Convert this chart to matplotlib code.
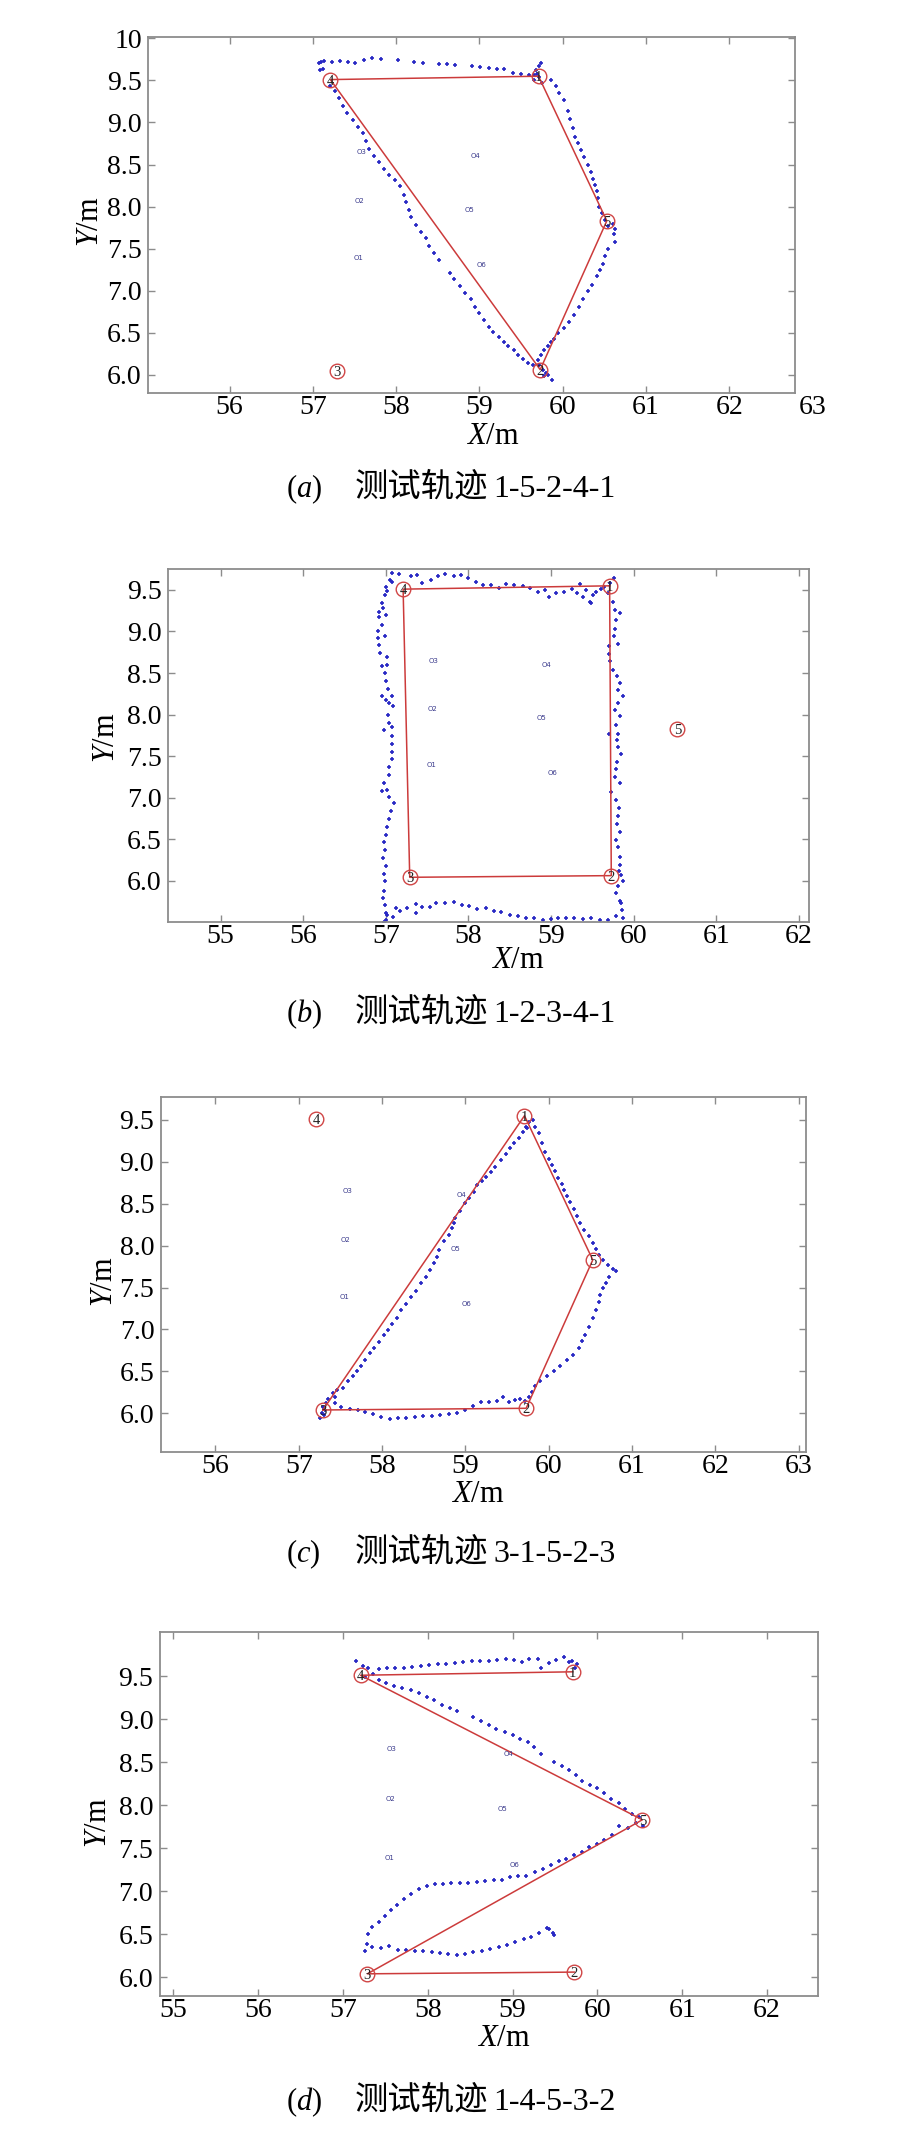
import matplotlib
matplotlib.use("Agg")
import matplotlib.pyplot as plt

plt.rcParams['font.family'] = ['Liberation Serif', 'Noto Sans CJK SC']
plt.rcParams['mathtext.fontset'] = 'custom'
plt.rcParams['mathtext.rm'] = 'Liberation Serif'
plt.rcParams['mathtext.it'] = 'Liberation Serif:italic'

W, H = 906, 2147

# test points 1..5 (red circles)
node_x = [59.71, 59.73, 57.29, 57.21, 60.53]
node_y = [9.55, 6.06, 6.04, 9.51, 7.83]
node_names = ['1', '2', '3', '4', '5']

# landmarks O1..O6
lm_x = [57.55, 57.56, 57.58, 58.95, 58.88, 59.02]
lm_y = [7.39, 8.07, 8.65, 8.60, 7.96, 7.30]
lm_names = ['O1', 'O2', 'O3', 'O4', 'O5', 'O6']

# planned routes
route_a = [1, 5, 2, 4, 1]
route_b = [1, 2, 3, 4, 1]
route_c = [3, 1, 5, 2, 3]
route_d = [1, 4, 5, 3, 2]

# measured tracks
track_a_x = [57.07, 57.10, 57.13, 57.09, 57.12, 57.23, 57.33, 57.42, 57.51, 57.61,
             57.71, 57.82, 58.02, 58.22, 58.32, 58.51, 58.61, 58.71, 58.91, 59.01,
             59.11, 59.21, 59.30, 59.40, 59.50, 59.60, 59.66, 59.68, 59.72, 59.74,
             59.71, 59.66, 59.75, 59.69,
             59.86, 59.92, 59.96, 60.02, 60.06, 60.09, 60.12, 60.15, 60.18, 60.22,
             60.26, 60.31, 60.34, 60.37, 60.39, 60.41, 60.43, 60.44, 60.47, 60.51,
             60.54, 60.61, 60.63, 60.62,
             60.63, 60.54, 60.51, 60.49, 60.45, 60.41, 60.35, 60.31, 60.25, 60.20,
             60.14, 60.08, 60.01, 59.94, 59.90, 59.86, 59.82, 59.78, 59.74, 59.70,
             59.71, 59.76, 59.80, 59.78, 59.87, 59.82,
             59.64, 59.58, 59.52, 59.46, 59.41, 59.34, 59.29, 59.23, 59.16, 59.11,
             59.05, 59.00, 58.95, 58.90, 58.83, 58.77, 58.70, 58.65, 58.52, 58.46,
             58.40, 58.36, 58.30, 58.24, 58.18, 58.15, 58.12, 58.09, 58.05, 57.99,
             57.91, 57.85, 57.79, 57.73, 57.67, 57.64, 57.60, 57.54, 57.48, 57.41,
             57.36, 57.31, 57.26, 57.21]
track_a_y = [9.71, 9.72, 9.73, 9.62, 9.64, 9.72, 9.73, 9.72, 9.71, 9.74,
             9.77, 9.75, 9.74, 9.72, 9.71, 9.70, 9.69, 9.68, 9.67, 9.66,
             9.65, 9.64, 9.63, 9.59, 9.58, 9.57, 9.56, 9.62, 9.67, 9.71,
             9.54, 9.50, 9.47, 9.58,
             9.51, 9.43, 9.35, 9.27, 9.14, 9.04, 8.94, 8.83, 8.75, 8.67,
             8.59, 8.49, 8.41, 8.33, 8.26, 8.18, 8.10, 8.00, 7.92, 7.84,
             7.77, 7.79, 7.73, 7.67,
             7.58, 7.50, 7.41, 7.32, 7.25, 7.17, 7.07, 6.99, 6.90, 6.81,
             6.71, 6.63, 6.56, 6.50, 6.43, 6.39, 6.34, 6.29, 6.23, 6.17,
             6.12, 6.06, 6.02, 5.98, 5.94, 6.00,
             6.11, 6.14, 6.19, 6.24, 6.29, 6.34, 6.39, 6.45, 6.51, 6.57,
             6.65, 6.73, 6.81, 6.90, 6.97, 7.05, 7.14, 7.21, 7.36, 7.45,
             7.53, 7.62, 7.70, 7.78, 7.87, 7.96, 8.05, 8.14, 8.24, 8.32,
             8.37, 8.45, 8.53, 8.60, 8.69, 8.78, 8.87, 8.95, 9.03, 9.11,
             9.20, 9.29, 9.37, 9.43]

track_b_x = [57.08, 57.16, 57.30, 57.38, 57.44, 57.55, 57.63, 57.72, 57.82, 57.91,
             58.00, 58.09, 58.18, 58.27, 58.37, 58.46, 58.55, 58.66, 58.74, 58.84,
             58.93, 58.98, 59.06, 59.16, 59.25, 59.32, 59.35, 59.39, 59.42, 59.47,
             59.49, 59.51, 59.55, 59.60, 59.64, 59.69, 59.71, 59.76,
             59.75, 59.77, 59.83, 59.79, 59.77, 59.76, 59.81, 59.70, 59.70, 59.71,
             59.75, 59.80, 59.84, 59.81, 59.87, 59.81, 59.77, 59.83, 59.79, 59.70,
             59.81, 59.80, 59.81, 59.85, 59.80, 59.79, 59.78, 59.83, 59.73, 59.79,
             59.82, 59.81, 59.80, 59.83, 59.79, 59.81, 59.83, 59.84, 59.82, 59.85,
             59.87, 59.81, 59.79, 59.83, 59.85, 59.86, 59.79, 59.87,
             59.69, 59.59, 59.49, 59.39, 59.28, 59.18, 59.09, 59.00, 58.90, 58.80,
             58.70, 58.60, 58.50, 58.40, 58.31, 58.21, 58.11, 58.01, 57.92, 57.82,
             57.72, 57.61, 57.53, 57.44, 57.36, 57.36, 57.26, 57.17, 57.12, 57.09,
             57.02, 57.00, 56.98,
             57.00, 56.99, 56.97, 56.98, 56.99, 56.98, 57.00, 56.97, 56.99, 56.98,
             57.00, 57.01, 57.04, 57.06, 57.10, 57.04, 57.02, 56.95, 56.98, 57.04,
             57.04, 57.08, 57.08, 57.08, 57.08, 56.98, 57.08, 57.04, 57.03, 57.09,
             57.04, 57.00, 56.96, 57.07, 57.03, 57.00, 56.99, 56.95, 57.02, 57.01,
             56.93, 56.92, 56.90, 56.99, 56.90, 56.95, 56.92, 57.00, 56.92, 56.97,
             56.95, 56.99, 57.01, 57.00, 57.05, 57.08]
track_b_y = [9.71, 9.69, 9.67, 9.68, 9.59, 9.62, 9.67, 9.69, 9.67, 9.68,
             9.64, 9.60, 9.56, 9.56, 9.52, 9.57, 9.56, 9.55, 9.52, 9.47,
             9.50, 9.42, 9.46, 9.48, 9.51, 9.46, 9.57, 9.42, 9.50, 9.36,
             9.34, 9.44, 9.48, 9.51, 9.54, 9.46, 9.58, 9.64,
             9.36, 9.26, 9.22, 9.14, 9.03, 8.94, 8.85, 8.83, 8.73, 8.64,
             8.54, 8.46, 8.38, 8.30, 8.22, 8.14, 8.06, 7.98, 7.87, 7.77,
             7.77, 7.69, 7.61, 7.52, 7.43, 7.34, 7.25, 7.17, 7.07, 6.97,
             6.88, 6.78, 6.68, 6.59, 6.49, 6.40, 6.29, 6.19, 6.11, 6.07,
             5.99, 5.93, 5.85, 5.76, 5.73, 5.65, 5.57, 5.55,
             5.53, 5.53, 5.55, 5.54, 5.55, 5.55, 5.55, 5.54, 5.53, 5.55,
             5.55, 5.57, 5.59, 5.62, 5.64, 5.67, 5.66, 5.69, 5.71, 5.74,
             5.73, 5.73, 5.68, 5.68, 5.72, 5.61, 5.67, 5.63, 5.67, 5.56,
             5.59, 5.53, 5.50,
             5.61, 5.71, 5.79, 5.88, 5.99, 6.08, 6.17, 6.27, 6.37, 6.46,
             6.55, 6.64, 6.74, 6.84, 6.94, 7.01, 7.09, 7.08, 7.17, 7.27,
             7.37, 7.46, 7.55, 7.65, 7.74, 7.81, 7.85, 7.90, 7.99, 8.10,
             8.14, 8.17, 8.22, 8.22, 8.31, 8.40, 8.50, 8.58, 8.60, 8.69,
             8.74, 8.84, 8.92, 8.94, 9.00, 9.08, 9.18, 9.20, 9.24, 9.28,
             9.34, 9.44, 9.49, 9.54, 9.62, 9.60]

track_c_x = [57.25, 57.28, 57.31, 57.29, 57.33, 57.35, 57.41, 57.30, 57.43, 57.46,
             57.53, 57.59, 57.65, 57.70, 57.75, 57.80, 57.86, 57.90, 57.96, 58.02,
             58.07, 58.12, 58.18, 58.23, 58.29, 58.35, 58.41, 58.47, 58.53, 58.57,
             58.62, 58.66, 58.68, 58.74, 58.80, 58.84, 58.86, 58.88, 58.94, 58.99,
             59.04, 59.10, 59.14, 59.20, 59.25, 59.31, 59.36, 59.43, 59.49, 59.54,
             59.59, 59.64, 59.69, 59.73, 59.76, 59.81, 59.74,
             59.84, 59.88, 59.92, 59.96, 60.00, 60.04, 60.08, 60.11, 60.16, 60.18,
             60.22, 60.26, 60.30, 60.34, 60.38, 60.42, 60.48, 60.53, 60.57, 60.61,
             60.65, 60.71, 60.77, 60.81,
             60.73, 60.69, 60.65, 60.62, 60.60, 60.57, 60.53, 60.48, 60.44, 60.40,
             60.36, 60.29, 60.22, 60.14, 60.06, 59.98, 59.90, 59.84, 59.80, 59.76,
             59.72,
             59.66, 59.60, 59.52, 59.45, 59.38, 59.28, 59.19, 59.09, 58.99, 58.90,
             58.80, 58.70, 58.60, 58.49, 58.39, 58.29, 58.19, 58.09, 57.99, 57.89,
             57.80, 57.71, 57.61, 57.51, 57.43]
track_c_y = [5.94, 6.00, 6.04, 6.08, 6.12, 6.17, 6.24, 5.98, 6.19, 6.28,
             6.30, 6.38, 6.44, 6.50, 6.57, 6.64, 6.72, 6.78, 6.85, 6.93,
             6.99, 7.06, 7.14, 7.23, 7.31, 7.39, 7.46, 7.55, 7.63, 7.71,
             7.79, 7.87, 7.95, 8.05, 8.13, 8.21, 8.27, 8.33, 8.41, 8.51,
             8.57, 8.64, 8.72, 8.77, 8.82, 8.88, 8.94, 9.02, 9.09, 9.16,
             9.22, 9.29, 9.36, 9.41, 9.48, 9.50, 9.40,
             9.42, 9.34, 9.22, 9.12, 9.03, 8.96, 8.89, 8.81, 8.74, 8.66,
             8.59, 8.52, 8.44, 8.35, 8.27, 8.19, 8.11, 8.03, 7.96, 7.89,
             7.83, 7.77, 7.72, 7.70,
             7.63, 7.56, 7.50, 7.41, 7.33, 7.23, 7.14, 7.03, 6.94, 6.86,
             6.78, 6.70, 6.64, 6.57, 6.51, 6.44, 6.38, 6.32, 6.26, 6.20,
             6.15,
             6.17, 6.16, 6.14, 6.20, 6.15, 6.14, 6.13, 6.09, 6.04, 6.00,
             5.99, 5.98, 5.97, 5.97, 5.96, 5.95, 5.95, 5.93, 5.96, 5.99,
             6.02, 6.04, 6.05, 6.08, 6.12]

track_d_x = [59.76, 59.74, 59.70, 59.66, 59.61, 59.51, 59.43, 59.34, 59.30, 59.20,
             59.11, 59.02, 58.92, 58.82, 58.72, 58.62, 58.52, 58.42, 58.32, 58.22,
             58.12, 58.02, 57.92, 57.82, 57.72, 57.62, 57.52, 57.43, 57.36, 57.30,
             57.24, 57.16,
             57.26, 57.43, 57.51, 57.60, 57.70, 57.80, 57.90, 57.99, 58.08, 58.17,
             58.26, 58.35, 58.54, 58.63, 58.72, 58.81, 58.91, 59.00, 59.09, 59.18,
             59.25, 59.33, 59.49, 59.58, 59.67, 59.75, 59.82, 59.91, 60.00, 60.08,
             60.16, 60.25, 60.32, 60.41, 60.49, 60.54,
             60.46, 60.36, 60.25, 60.17, 60.08, 60.00, 59.90, 59.82, 59.72, 59.63,
             59.55, 59.45, 59.36, 59.26, 59.16, 59.06, 58.97, 58.88, 58.78, 58.68,
             58.58, 58.48, 58.38, 58.28, 58.18, 58.09, 57.99, 57.90, 57.80, 57.72,
             57.64, 57.57, 57.50, 57.43, 57.34, 57.30, 57.29, 57.26, 57.34, 57.45,
             57.55, 57.65, 57.75, 57.85, 57.95, 58.05, 58.14, 58.24, 58.34, 58.44,
             58.54, 58.64, 58.74, 58.84, 58.93, 59.03, 59.13, 59.22, 59.31, 59.41,
             59.43, 59.48, 59.49]
track_d_y = [9.64, 9.59, 9.68, 9.66, 9.72, 9.69, 9.65, 9.60, 9.70, 9.70,
             9.66, 9.69, 9.70, 9.69, 9.68, 9.67, 9.67, 9.66, 9.65, 9.64,
             9.64, 9.63, 9.62, 9.61, 9.60, 9.60, 9.59, 9.58, 9.53, 9.59,
             9.62, 9.67,
             9.49, 9.46, 9.42, 9.39, 9.36, 9.34, 9.30, 9.26, 9.22, 9.17,
             9.13, 9.09, 9.02, 8.98, 8.93, 8.89, 8.85, 8.81, 8.77, 8.73,
             8.68, 8.60, 8.50, 8.45, 8.41, 8.35, 8.28, 8.24, 8.20, 8.14,
             8.07, 8.03, 7.96, 7.90, 7.86, 7.76,
             7.79, 7.74, 7.76, 7.65, 7.59, 7.55, 7.51, 7.46, 7.42, 7.38,
             7.35, 7.31, 7.26, 7.22, 7.18, 7.18, 7.17, 7.13, 7.13, 7.12,
             7.11, 7.10, 7.09, 7.09, 7.08, 7.08, 7.06, 7.02, 6.97, 6.91,
             6.84, 6.78, 6.71, 6.64, 6.58, 6.50, 6.39, 6.30, 6.35, 6.34,
             6.36, 6.32, 6.32, 6.31, 6.30, 6.29, 6.28, 6.27, 6.26, 6.27,
             6.29, 6.31, 6.33, 6.35, 6.38, 6.41, 6.44, 6.47, 6.51, 6.57,
             6.56, 6.51, 6.49]

# axis ticks and labels
xticks_a = [56, 57, 58, 59, 60, 61, 62]
xticks_b = [55, 56, 57, 58, 59, 60, 61, 62]
xticks_c = [56, 57, 58, 59, 60, 61, 62, 63]
xticks_d = [55, 56, 57, 58, 59, 60, 61, 62]
yticks_a = [6.0, 6.5, 7.0, 7.5, 8.0, 8.5, 9.0, 9.5, 10.0]
ylabels_a = ['6.0', '6.5', '7.0', '7.5', '8.0', '8.5', '9.0', '9.5', '10']
yticks_bcd = [6.0, 6.5, 7.0, 7.5, 8.0, 8.5, 9.0, 9.5]
ylabels_bcd = ['6.0', '6.5', '7.0', '7.5', '8.0', '8.5', '9.0', '9.5']

letters = ['a', 'b', 'c', 'd']
caption_words = '测试轨迹'
caption_routes = ['1-5-2-4-1', '1-2-3-4-1', '3-1-5-2-3', '1-4-5-3-2']

panels = [
    dict(box=(148, 36.7, 795, 392.7), xlim=(55.02, 62.79), ylim=(5.786, 10.02),
         xt=xticks_a, yt=yticks_a, yl=ylabels_a, tx=track_a_x, ty=track_a_y, route=route_a,
         xlab=(493, 437), ylab=(90, 222), cap=497),
    dict(box=(167.7, 569.3, 808.7, 922.3), xlim=(54.36, 62.12), ylim=(5.498, 9.749),
         xt=xticks_b, yt=yticks_bcd, yl=ylabels_bcd, tx=track_b_x, ty=track_b_y, route=route_b,
         xlab=(518, 961), ylab=(106, 738), cap=1022),
    dict(box=(160.5, 1097.3, 806, 1452.3), xlim=(55.34, 63.09), ylim=(5.535, 9.77),
         xt=xticks_c, yt=yticks_bcd, yl=ylabels_bcd, tx=track_c_x, ty=track_c_y, route=route_c,
         xlab=(478, 1495), ylab=(104, 1282), cap=1562),
    dict(box=(159.5, 1632.4, 818, 1995.5), xlim=(54.84, 62.60), ylim=(5.788, 10.008),
         xt=xticks_d, yt=yticks_bcd, yl=ylabels_bcd, tx=track_d_x, ty=track_d_y, route=route_d,
         xlab=(504, 2039), ylab=(98, 1823), cap=2110),
]

fig = plt.figure(figsize=(W / 100, H / 100), dpi=100)

for i, p in enumerate(panels):
    l, t, r, b = p['box']
    ax = fig.add_axes([l / W, 1 - b / H, (r - l) / W, (b - t) / H])
    ax.set_xlim(*p['xlim'])
    ax.set_ylim(*p['ylim'])

    # measured track
    ax.plot(p['tx'], p['ty'], ls='none', marker='+', ms=3.2, mew=1.2,
            color='#2828c4', zorder=2)
    # planned route
    rx = [node_x[k - 1] for k in p['route']]
    ry = [node_y[k - 1] for k in p['route']]
    ax.plot(rx, ry, color='#cc3b3b', lw=1.1, zorder=3)
    # test points
    ax.plot(node_x, node_y, ls='none', marker='o', ms=10.5, mfc='none',
            mec='#d04545', mew=1.0, zorder=4)
    for nx, ny, name in zip(node_x, node_y, node_names):
        ax.text(nx, ny, name, ha='center', va='center_baseline', fontsize=10.5,
                color='#222222', zorder=5)
    # landmarks
    for ox, oy, name in zip(lm_x, lm_y, lm_names):
        ax.text(ox, oy, name, ha='center', va='center', fontsize=5,
                color='#3a3a8c', family='DejaVu Sans')

    ax.set_xticks(p['xt'])
    ax.set_xticklabels([str(v) for v in p['xt']])
    ax.set_yticks(p['yt'])
    ax.set_yticklabels(p['yl'])
    ax.tick_params(direction='in', top=True, right=True, length=5, width=1,
                   color='#8c8c8c', labelsize=20, labelcolor='black')
    ax.tick_params(axis='x', pad=1.5)
    ax.tick_params(axis='y', pad=4.5)
    for sp in ax.spines.values():
        sp.set_color('#8c8c8c')
        sp.set_linewidth(1.3)

    if i == 0:
        # the "63" label sits past the right edge in the original
        ax.annotate('63', xy=(63, 0), xycoords=('data', 'axes fraction'),
                    xytext=(0, -1.5), textcoords='offset points',
                    ha='center', va='top', fontsize=20, annotation_clip=False)

    fig.text(p['xlab'][0] / W, 1 - p['xlab'][1] / H, r'$\mathit{X}$/m',
             ha='center', va='center', fontsize=22)
    fig.text(p['ylab'][0] / W, 1 - p['ylab'][1] / H, r'$\mathit{Y}$/m',
             ha='center', va='center', rotation=90, fontsize=22)

    # caption
    cy = 1 - p['cap'] / H
    fig.text(286 / W, cy, r'$(\mathit{%s})$' % letters[i], ha='left', va='baseline',
             fontsize=22)
    fig.text(355 / W, cy, caption_words, ha='left', va='baseline', fontsize=24,
             family='Noto Sans CJK SC')
    fig.text(493 / W, cy, caption_routes[i], ha='left', va='baseline', fontsize=23,
             family='Liberation Serif')

fig.savefig('out.png', dpi=100)
